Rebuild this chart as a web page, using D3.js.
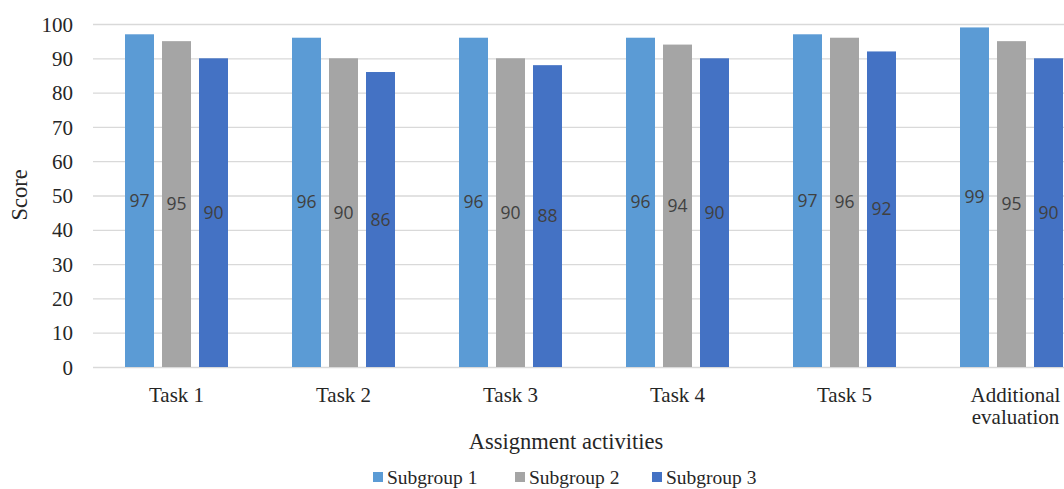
<!DOCTYPE html>
<html>
<head>
<meta charset="utf-8">
<script src="https://cdn.jsdelivr.net/npm/d3@7"></script>
<style>
  html, body { margin: 0; padding: 0; background: #fff; overflow: hidden; }
  svg { display: block; }
</style>
</head>
<body>
<svg id="chart" width="1064" height="489"></svg>
<script>
const categories = ["Task 1", "Task 2", "Task 3", "Task 4", "Task 5", "Additional evaluation"];
const seriesNames = ["Subgroup 1", "Subgroup 2", "Subgroup 3"];
const subgroup1 = [97, 96, 96, 96, 97, 99];
const subgroup2 = [95, 90, 90, 94, 96, 95];
const subgroup3 = [90, 86, 88, 90, 92, 90];
const yTicks = [0, 10, 20, 30, 40, 50, 60, 70, 80, 90, 100];
const colors = ["#5B9BD5", "#A5A5A5", "#4472C4"];

const series = [subgroup1, subgroup2, subgroup3];
const serif = "'Liberation Serif', 'Times New Roman', serif";
const sans = "'Open Sans', 'Noto Sans', sans-serif";
const textColor = "#262626";

const svg = d3.select("#chart");
const plotLeft = 93, plotTop = 24, plotBottom = 367;
const groupWidth = 167;

const x = d3.scaleBand()
  .domain(categories)
  .range([plotLeft, plotLeft + groupWidth * categories.length])
  .paddingInner(0).paddingOuter(0);

const y = d3.scaleLinear().domain([0, 100]).range([plotBottom, plotTop]);

const barW = 29, barGap = 8;
const x1 = d3.scaleBand()
  .domain(d3.range(series.length))
  .range([0, barW * 3 + barGap * 2])
  .paddingInner(barGap / (barW + barGap))
  .paddingOuter(0);
const groupOffset = (groupWidth - (barW * 3 + barGap * 2)) / 2;

// horizontal gridlines
svg.append("g")
  .selectAll("line")
  .data(yTicks)
  .join("line")
  .attr("x1", plotLeft)
  .attr("x2", 1064)
  .attr("y1", d => y(d) + 0.5)
  .attr("y2", d => y(d) + 0.5)
  .attr("stroke", "#D9D9D9")
  .attr("stroke-width", 1.3);

// y axis tick labels
const yAxis = d3.axisLeft(y).tickValues(yTicks).tickSize(0).tickPadding(0);
const yg = svg.append("g").attr("transform", `translate(${plotLeft - 20},0)`).call(yAxis);
yg.select(".domain").remove();
yg.selectAll("text")
  .attr("font-family", serif)
  .attr("font-size", 21)
  .attr("fill", textColor)
  .attr("dy", "0.34em");

// bars with centred value labels
const groups = svg.append("g")
  .selectAll("g")
  .data(categories)
  .join("g")
  .attr("transform", d => `translate(${x(d) + groupOffset},0)`);

groups.each(function(cat, ci) {
  const g = d3.select(this);
  series.forEach((vals, si) => {
    const v = vals[ci];
    g.append("rect")
      .attr("x", x1(si))
      .attr("y", y(v))
      .attr("width", x1.bandwidth())
      .attr("height", y(0) - y(v))
      .attr("fill", colors[si]);
    g.append("text")
      .attr("x", x1(si) + x1.bandwidth() / 2)
      .attr("y", y(v / 2))
      .attr("dy", "0.35em")
      .attr("text-anchor", "middle")
      .attr("font-family", sans)
      .attr("font-size", 17.5)
      .attr("fill", "#404040")
      .text(v);
  });
});

// x axis category labels (long names wrap onto two lines)
const xAxis = d3.axisBottom(x).tickSize(0).tickPadding(0);
const xg = svg.append("g").attr("transform", `translate(0,402)`).call(xAxis);
xg.select(".domain").remove();
xg.selectAll("text")
  .attr("font-family", serif)
  .attr("font-size", 21)
  .attr("fill", textColor)
  .attr("y", 0)
  .attr("dy", 0)
  .each(function(d) {
    const words = String(d).split(" ");
    if (words.length > 1 && !/^Task/.test(d)) {
      const t = d3.select(this).text(null).attr("x", 4);
      words.forEach((w, i) => {
        t.append("tspan").attr("x", 4).attr("y", i * 22).text(w);
      });
    }
  });

// axis titles
svg.append("text")
  .attr("transform", "translate(27,195) rotate(-90)")
  .attr("text-anchor", "middle")
  .attr("font-family", serif)
  .attr("font-size", 22.5)
  .attr("fill", textColor)
  .text("Score");

svg.append("text")
  .attr("x", 566)
  .attr("y", 449)
  .attr("text-anchor", "middle")
  .attr("font-family", serif)
  .attr("font-size", 22.5)
  .attr("fill", textColor)
  .text("Assignment activities");

// legend
const legendX = [373, 515, 652];
const legend = svg.append("g")
  .selectAll("g")
  .data(seriesNames)
  .join("g")
  .attr("transform", (d, i) => `translate(${legendX[i]},477)`);
legend.append("rect")
  .attr("x", 0).attr("y", -5)
  .attr("width", 10).attr("height", 10)
  .attr("fill", (d, i) => colors[i]);
legend.append("text")
  .attr("x", 14)
  .attr("dy", "0.34em")
  .attr("font-family", serif)
  .attr("font-size", 19.5)
  .attr("fill", textColor)
  .text(d => d);
</script>
</body>
</html>
